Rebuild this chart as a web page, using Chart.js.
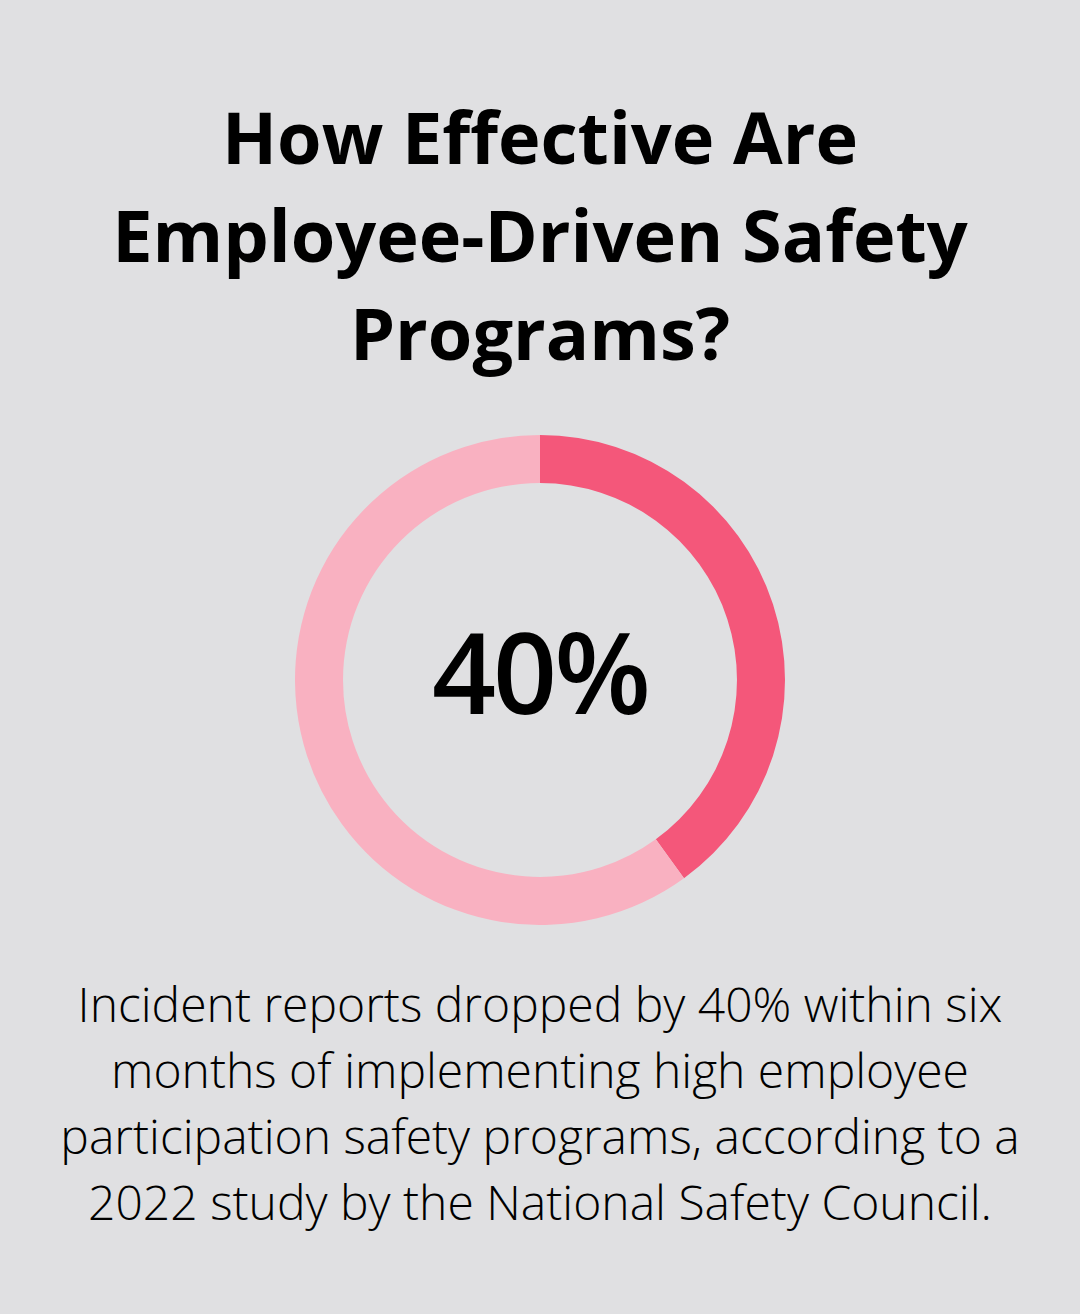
<!DOCTYPE html>
<html>
<head>
<meta charset="utf-8">
<script src="https://cdn.jsdelivr.net/npm/chart.js@4"></script>
<style>
  html, body { margin: 0; padding: 0; }
  body {
    width: 1080px; height: 1314px; background: #e0e0e2;
    font-family: "Open Sans", sans-serif; color: #000;
    position: relative; overflow: hidden;
  }
  #title {
    position: absolute; left: 0; width: 1080px; top: 87px;
    text-align: center; font-weight: 700; font-size: 72px; line-height: 98px;
  }
  #wrap { position: absolute; left: 295px; top: 435px; width: 490px; height: 490px; }
  #center {
    position: absolute; left: 0; top: -10px; width: 490px; height: 490px;
    display: flex; align-items: center; justify-content: center;
    font-size: 112px; font-weight: 600; letter-spacing: -3px;
  }
  #note {
    position: absolute; left: 0; width: 1080px; top: 971px;
    text-align: center; font-weight: 300; font-size: 48px; line-height: 66px;
  }
</style>
</head>
<body>
<div id="title">How Effective Are<br>Employee-Driven Safety<br>Programs?</div>
<div id="wrap">
  <canvas id="donut" width="490" height="490"></canvas>
  <div id="center">40%</div>
</div>
<div id="note">Incident reports dropped by 40% within six<br>months of implementing high employee<br>participation safety programs, according to a<br>2022 study by the National Safety Council.</div>
<script>
const labels = ['Drop in incident reports', 'Remaining'];
const values = [40, 60];
const colors = ['#f4577a', '#f9b1c1'];

const donutConfig = {
  type: 'doughnut',
  data: {
    labels: labels,
    datasets: [
      {
        data: values,
        backgroundColor: colors,
        borderWidth: 0,
      },
    ],
  },
  options: {
    responsive: false,
    animation: false,
    cutout: '80.4%',
    layout: { padding: 0 },
    plugins: {
      legend: { display: false },
      tooltip: { enabled: false },
    },
  },
}

const donutCtx = document.getElementById('donut')
window.myDonut = new Chart(donutCtx, donutConfig)
</script>
</body>
</html>
